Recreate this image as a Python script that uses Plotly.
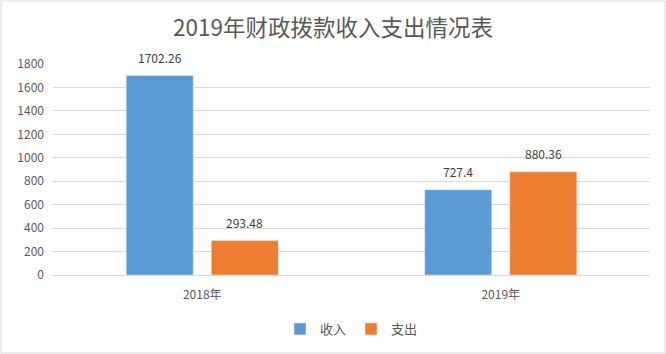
import plotly.graph_objects as go

categories = ["2018年", "2019年"]
income = [1702.26, 727.4]
expense = [293.48, 880.36]
income_labels = ["1702.26", "727.4"]
expense_labels = ["293.48", "880.36"]
y_ticks = [0, 200, 400, 600, 800, 1000, 1200, 1400, 1600, 1800]

FONT = "Noto Sans CJK SC, Noto Sans, sans-serif"
W, H = 666, 354
L, R, T, B = 53, 16, 64, 79
pw, ph = W - L - R, H - T - B
BARGAP = 0.43
SLOT_HALF = (1 - BARGAP) * pw / len(categories) / 4  # center offset of each bar in group

fig = go.Figure()
fig.add_trace(go.Bar(name="收入", x=categories, y=income, marker_color="#5B9BD5"))
fig.add_trace(go.Bar(name="支出", x=categories, y=expense, marker_color="#ED7D31"))

for series, labels, sign in ((income, income_labels, -1), (expense, expense_labels, 1)):
    for cat, val, lab in zip(categories, series, labels):
        fig.add_annotation(x=cat, y=val, xref="x", yref="y", text=lab,
                           showarrow=False, xshift=sign * SLOT_HALF,
                           yshift=18, yanchor="middle",
                           font=dict(size=12, color="#404040", family=FONT))

fig.update_layout(
    width=W, height=H,
    margin=dict(l=L, r=R, t=T, b=B, autoexpand=False),
    paper_bgcolor="white", plot_bgcolor="white",
    barmode="group", bargap=BARGAP, bargroupgap=0.212,
    font=dict(family=FONT, color="#595959", size=12),
    title=dict(text="2019年财政拨款收入支出情况表", x=0.5, xanchor="center",
               y=1 - 28 / H, yanchor="middle",
               font=dict(size=22.5, color="#595959", family=FONT)),
    legend=dict(orientation="h", x=0.5, xanchor="center",
                y=(275 - 329) / ph, yanchor="middle",
                font=dict(size=13, color="#595959"), itemwidth=30,
                traceorder="normal"),
    xaxis=dict(showgrid=False, showline=True, linecolor="#d9d9d9",
               ticks="", ticklabelstandoff=9, automargin=False,
               tickfont=dict(size=12, color="#595959")),
    yaxis=dict(range=[0, 1800], tickvals=y_ticks, showgrid=True,
               gridcolor="#d9d9d9", zeroline=False, showline=False,
               ticks="", ticklabelstandoff=8, automargin=False,
               tickfont=dict(size=12, color="#595959")),
    showlegend=True,
)

fig.add_shape(type="rect", xref="paper", yref="paper",
              x0=(1 - L) / pw, x1=(W - 1 - L) / pw,
              y0=(T + ph - (H - 1)) / ph, y1=(T + ph - 1) / ph,
              line=dict(color="#d9d9d9", width=1), fillcolor="rgba(0,0,0,0)",
              layer="below")

fig.write_html("out.html")
